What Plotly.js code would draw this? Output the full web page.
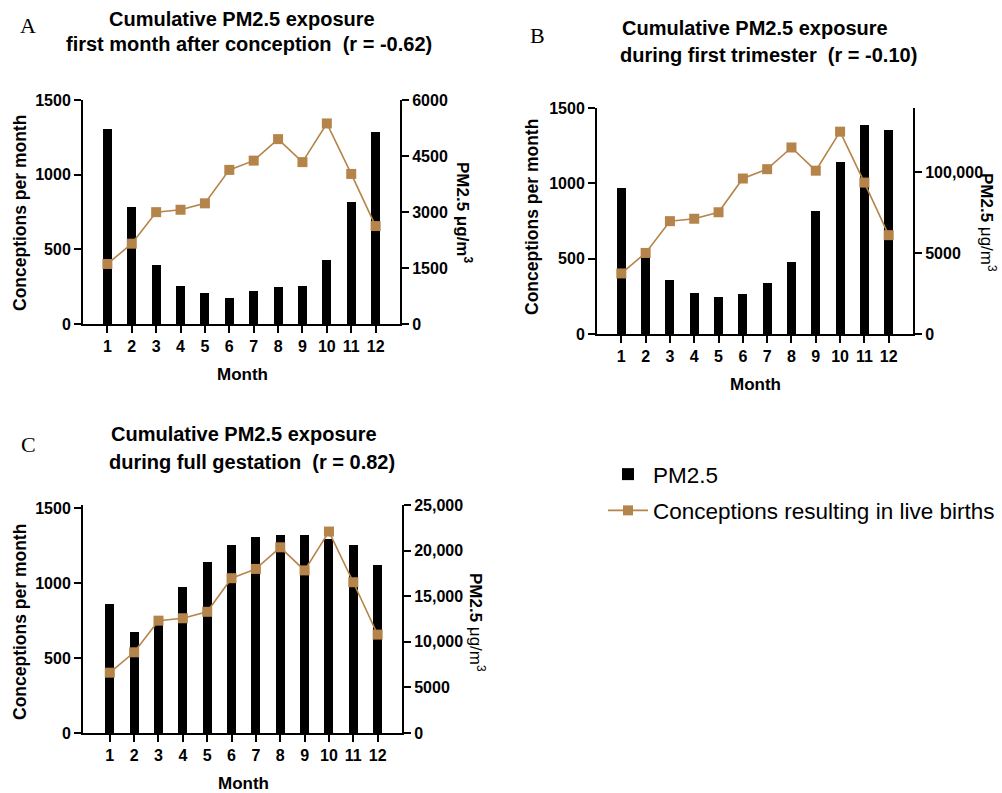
<!DOCTYPE html>
<html>
<head>
<meta charset="utf-8">
<script src="https://cdn.plot.ly/plotly-3.0.1.min.js"></script>
<style>html,body{margin:0;padding:0;background:#fff;}#chart{width:1002px;height:793px;}</style>
</head>
<body>
<div id="chart"></div>
<script>
const months = [1, 2, 3, 4, 5, 6, 7, 8, 9, 10, 11, 12];
const conceptions = [402, 538, 749, 765, 808, 1032, 1094, 1238, 1084, 1343, 1005, 656];
const pmFirstMonth = [5210, 3125, 1580, 1020, 840, 690, 885, 980, 1025, 1710, 3280, 5145];
const pmFirstTrimester = [90100, 47800, 33400, 25600, 23100, 24700, 31500, 44500, 75900, 106600, 129300, 126200];
const pmFullGestation = [14130, 11050, 12000, 16010, 18770, 20650, 21520, 21700, 21670, 21300, 20580, 18400];

const leftTicks = [0, 500, 1000, 1500];
const rightTicksA = [0, 1500, 3000, 4500, 6000];
const rightTicksB = [0, 50000, 100000];
const rightTextB = ['0', '5000', '100,000'];
const rightTicksC = [0, 5000, 10000, 15000, 20000, 25000];
const rightTextC = ['0', '5000', '10,000', '15,000', '20,000', '25,000'];

const W = 1002, H = 793;
const px = v => v / W;
const py = v => 1 - v / H;
const gold = '#B5844A';
const FONT = 'Liberation Sans, Arial, sans-serif';

function barTrace(y, xa, ya, show) {
  return {type: 'bar', x: months, y: y, xaxis: xa, yaxis: ya, name: 'PM2.5',
    marker: {color: '#000000', line: {width: 0}}, width: 0.37,
    legendgroup: 'pm', showlegend: show, hoverinfo: 'skip'};
}
function lineTrace(xa, ya, show) {
  return {type: 'scatter', mode: 'lines+markers', x: months, y: conceptions, xaxis: xa, yaxis: ya,
    name: 'Conceptions resulting in live births',
    line: {color: gold, width: 1.6},
    marker: {symbol: 'square', size: 10, color: gold},
    legendgroup: 'conc', showlegend: show, hoverinfo: 'skip'};
}

const data = [
  barTrace(pmFirstMonth, 'x', 'y', true),
  lineTrace('x', 'y2', true),
  barTrace(pmFirstTrimester, 'x2', 'y3', false),
  lineTrace('x2', 'y4', false),
  barTrace(pmFullGestation, 'x3', 'y5', false),
  lineTrace('x3', 'y6', false)
];

const tickFont = {family: FONT, size: 16, color: '#000', weight: 'bold'};
const axBase = {showgrid: false, zeroline: false, showline: true, linecolor: '#000', linewidth: 2,
  ticks: 'outside', ticklen: 7, tickwidth: 2, tickcolor: '#000', tickfont: tickFont, fixedrange: true};

function xAx(dom, anchor, range) {
  return Object.assign({}, axBase, {domain: dom, anchor: anchor, range: range, tickvals: months,
    ticktext: months.map(String)});
}
function yRight(dom, anchor, range, vals, text) {
  const o = Object.assign({}, axBase, {domain: dom, anchor: anchor, side: 'right', range: range, tickvals: vals});
  if (text) o.ticktext = text;
  return o;
}
function yLeft(over, anchor, range) {
  return Object.assign({}, axBase, {overlaying: over, anchor: anchor, side: 'left', range: range, tickvals: leftTicks});
}

function ann(text, x, y, size, opts) {
  return Object.assign({text: text, xref: 'paper', yref: 'paper', x: px(x), y: py(y),
    xanchor: 'center', yanchor: 'middle', showarrow: false,
    font: {family: FONT, size: size, color: '#000'}}, opts || {});
}
const serif = {font: {family: 'Liberation Serif, Times New Roman, serif', size: 22, color: '#000'}};

const annotations = [
  ann('A', 28, 25, 22, serif),
  ann('B', 537, 35, 22, serif),
  ann('C', 28, 445, 22, serif),
  ann('<b>Cumulative PM2.5 exposure</b>', 242, 19, 20),
  ann('<b>first month after conception  (r = -0.62)</b>', 249, 44, 20),
  ann('<b>Cumulative PM2.5 exposure</b>', 755, 28, 20),
  ann('<b>during first trimester  (r = -0.10)</b>', 768, 55, 20),
  ann('<b>Cumulative PM2.5 exposure</b>', 244, 434, 20),
  ann('<b>during full gestation  (r = 0.82)</b>', 252, 462, 20),
  ann('<b>Conceptions per month</b>', 20, 213, 17.5, {textangle: -90}),
  ann('<b>Conceptions per month</b>', 532, 217, 17.5, {textangle: -90}),
  ann('<b>Conceptions per month</b>', 20, 622, 17.5, {textangle: -90}),
  ann('<b>Month</b>', 242, 374, 17),
  ann('<b>Month</b>', 755, 384, 17),
  ann('<b>Month</b>', 243, 783, 17),
  ann('<b>PM2.5 μg/m<sup>3</sup></b>', 464, 212, 17, {textangle: 90}),
  ann('<b>PM2.5</b> μg/m<sup>3</sup>', 988, 222, 17, {textangle: 90}),
  ann('<b>PM2.5</b> μg/m<sup>3</sup>', 477, 622, 17, {textangle: 90})
];

const layout = {
  width: W, height: H,
  margin: {l: 0, r: 0, t: 0, b: 0},
  paper_bgcolor: '#fff', plot_bgcolor: 'rgba(0,0,0,0)',
  font: {family: FONT, color: '#000'},
  bargap: 0,
  xaxis: xAx([px(83), px(400)], 'y', [0, 13]),
  yaxis: yRight([py(324), py(100)], 'x', [0, 6000], rightTicksA),
  yaxis2: yLeft('y', 'x', [0, 1500]),
  xaxis2: xAx([px(597), px(913)], 'y3', [0, 13]),
  yaxis3: yRight([py(334), py(108)], 'x2', [0, 139800], rightTicksB, rightTextB),
  yaxis4: yLeft('y3', 'x2', [0, 1500]),
  xaxis3: xAx([px(83), px(402)], 'y5', [-0.1, 13]),
  yaxis5: yRight([py(733), py(505)], 'x3', [0, 25000], rightTicksC, rightTextC),
  yaxis6: yLeft('y5', 'x3', [0, 1520]),
  showlegend: true,
  legend: {x: px(603), y: py(453), xanchor: 'left', yanchor: 'top', bgcolor: 'rgba(0,0,0,0)',
    font: {family: FONT, size: 22.5, color: '#000'}, traceorder: 'grouped', tracegroupgap: 4,
    itemwidth: 40},
  annotations: annotations
};

Plotly.newPlot('chart', data, layout, {displayModeBar: false, staticPlot: true});
</script>
</body>
</html>
